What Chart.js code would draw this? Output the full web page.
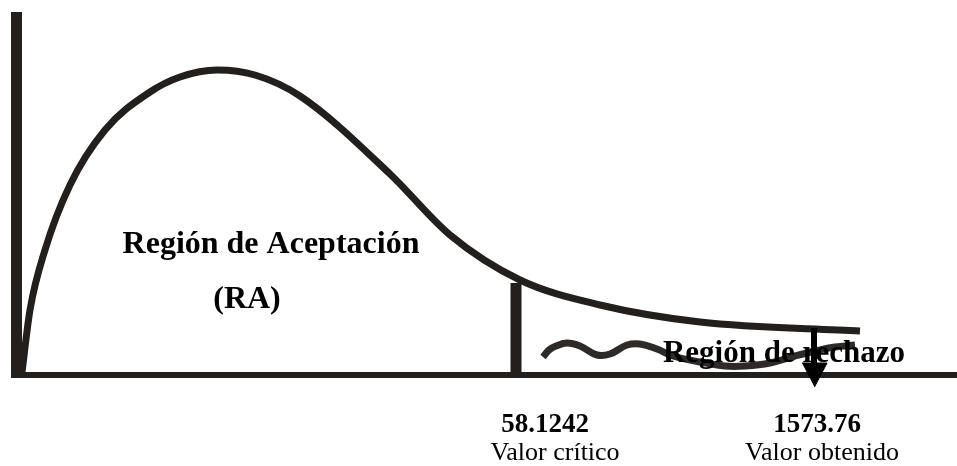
<!DOCTYPE html>
<html>
<head>
<meta charset="utf-8">
<script src="https://cdn.jsdelivr.net/npm/chart.js@4.4.1/dist/chart.umd.min.js"></script>
<style>
  body { margin: 0; background: #fff; }
  #wrap { width: 957px; height: 466px; }
</style>
</head>
<body>
<div id="wrap"><canvas id="diagram" width="957" height="466"></canvas></div>
<script>
// curve of the distribution (x, y, y grows downward)
const curveX = [22, 30, 45, 70, 105, 150, 180, 217, 255, 300, 390, 450, 520, 600, 700, 860];
const curveY = [372, 310, 250, 185, 130, 92, 77, 70, 75, 96, 174, 235, 280, 305, 322, 331];

// wavy line in the rejection region
const waveX = [543, 549, 556, 567, 580, 597, 610, 627, 640, 657, 673, 700, 725, 745, 770, 795, 815, 835, 855];
const waveY = [357, 350, 346, 343, 346, 355, 354, 345, 344, 349, 356, 362, 366, 366, 363, 356, 351, 347, 345];

// axes, critical value line and arrow to the obtained value
const vAxisX = [16.5, 16.5];
const vAxisY = [12, 378];
const hAxisX = [11, 957];
const hAxisY = [375, 375];
const critX = [516, 516];
const critY = [283, 375];
const arrowX = [814, 814];
const arrowY = [328, 364];
const headX = [802, 827, 814.5];
const headY = [363, 363, 387];

// texts
const labelText = ['Región de Aceptación', '(RA)', 'Región de rechazo', '58.1242', 'Valor crítico', '1573.76', 'Valor obtenido'];
const labelX = [271, 247, 784, 545, 555, 817, 822];
const labelY = [253, 308, 362, 432, 460, 432, 460];
const labelBold = [true, true, true, true, false, true, false];
const labelSize = [32, 32, 31, 27, 26, 27, 26];

const ink = '#231f1c';

function pts(xs, ys) {
  return xs.map((x, i) => ({ x: x, y: ys[i] }));
}

function lineSet(name, xs, ys, width, color, order, extra) {
  return Object.assign({
    label: name,
    data: pts(xs, ys),
    borderColor: color,
    backgroundColor: color,
    borderWidth: width,
    pointRadius: 0,
    tension: 0,
    fill: false,
    clip: false,
    order: order,
  }, extra || {});
}

// texts go on top of the wave but under the arrow
const textPlugin = {
  id: 'texts',
  afterDatasetDraw(chart, args) {
    if (chart.data.datasets[args.index].label !== 'wave') return;
    const ctx = chart.ctx;
    const xs = chart.scales.x;
    const ys = chart.scales.y;
    ctx.save();
    ctx.fillStyle = '#000';
    ctx.textAlign = 'center';
    ctx.textBaseline = 'alphabetic';
    for (let i = 0; i < labelText.length; i++) {
      ctx.font = (labelBold[i] ? 'bold ' : '') + labelSize[i] + 'px "Liberation Serif", "Times New Roman", serif';
      ctx.fillText(labelText[i], xs.getPixelForValue(labelX[i]), ys.getPixelForValue(labelY[i]));
    }
    ctx.restore();
  }
};

const datasets = [
  lineSet('arrowHead', headX, headY, 1, '#000', 0, { fill: 'shape' }),
  lineSet('arrow', arrowX, arrowY, 6, '#000', 1),
  lineSet('wave', waveX, waveY, 7, '#2e2a28', 2, { tension: 0.4 }),
  lineSet('critical', critX, critY, 11, ink, 3),
  lineSet('curve', curveX, curveY, 7, ink, 4, { cubicInterpolationMode: 'monotone' }),
  lineSet('hAxis', hAxisX, hAxisY, 6, ink, 5),
  lineSet('vAxis', vAxisX, vAxisY, 11, ink, 6),
];

new Chart(document.querySelector('#diagram'), {
  type: 'line',
  data: { datasets },
  options: {
    responsive: false,
    animation: false,
    layout: { padding: 0 },
    plugins: { legend: { display: false }, tooltip: { enabled: false } },
    scales: {
      x: { type: 'linear', min: 0, max: 957, display: false },
      y: { type: 'linear', min: 0, max: 466, reverse: true, display: false },
    },
  },
  plugins: [textPlugin],
});
</script>
</body>
</html>
